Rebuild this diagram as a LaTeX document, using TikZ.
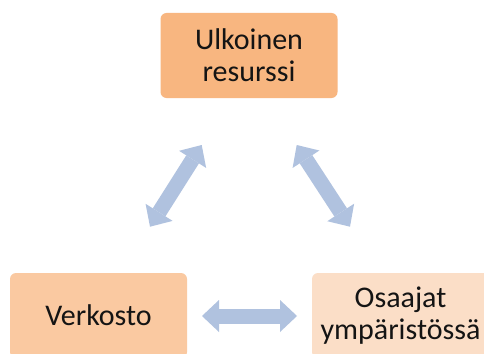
\documentclass[tikz,border=0pt]{standalone}
\usepackage{fontspec}
\setmainfont{Carlito}
\usetikzlibrary{arrows.meta}
\definecolor{boxA}{HTML}{F8B680}
\definecolor{boxB}{HTML}{FAC9A1}
\definecolor{boxC}{HTML}{FBDEC7}
\definecolor{link}{HTML}{B0C2DF}
\tikzset{
  card/.style={rounded corners=6pt, inner sep=0pt, align=center,
    minimum width=177pt, minimum height=85pt, text=black!92,
    font=\fontsize{30}{32}\selectfont},
  flow/.style={draw=link, line width=15pt,
    {Triangle[length=17pt,width=32pt,line width=0pt]}-{Triangle[length=17pt,width=32pt,line width=0pt]}}
}
\begin{document}
\begin{tikzpicture}[x=1pt,y=-1pt]
\useasboundingbox (0,0) rectangle (484,353);
\clip (0,0) rectangle (484,353);
\fill[white] (0,0) rectangle (484,353);
% the three parties
\node[card, fill=boxA] (ext) at (249,55.5) {Ulkoinen\\resurssi};
\node[card, fill=boxB] (net) at (98.5,315.5) {Verkosto};
\node[card, fill=boxC] (exp) at (400.5,315.5) {Osaajat\\ympäristössä};
% arrow end points
\coordinate (l1) at (150,226.7);
\coordinate (l2) at (201.7,145);
\coordinate (r1) at (296.7,145);
\coordinate (r2) at (350,226.7);
\coordinate (h1) at (202,316);
\coordinate (h2) at (297,316);
% two-way links
\draw[flow] (l1) -- (l2);
\draw[flow] (r1) -- (r2);
\draw[flow] (h1) -- (h2);
\end{tikzpicture}
\end{document}
